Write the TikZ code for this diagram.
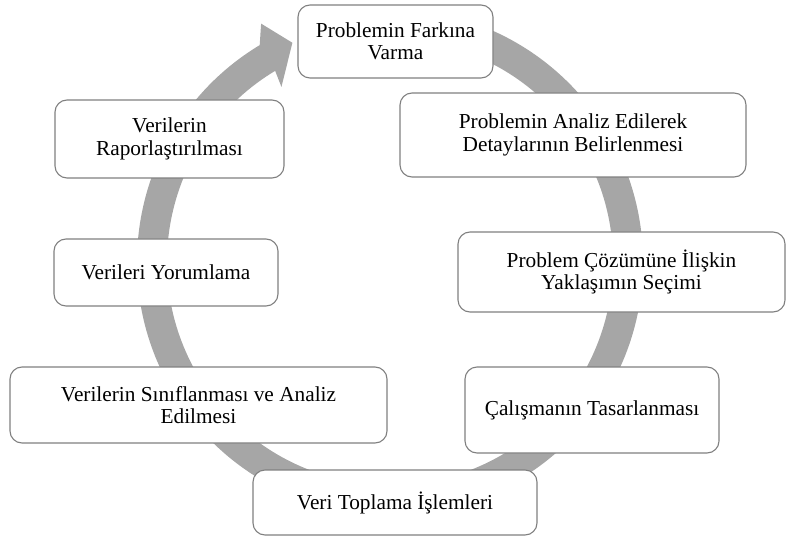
\documentclass[tikz,border=0pt]{standalone}
\usepackage{fontspec}
\setmainfont{Liberation Serif}[Ligatures=NoCommon]
\usepackage{xcolor}
\definecolor{ringgray}{RGB}{166,166,166}
\definecolor{edgegray}{RGB}{128,128,128}

\begin{document}
\begin{tikzpicture}[x=1pt,y=1pt,
  box/.style={draw=edgegray,line width=1.1pt,fill=white,rounded corners=12pt,
    align=center,inner sep=0pt,font=\fontsize{21.3}{22.5}\selectfont}]
  \useasboundingbox (0,0) rectangle (786,536);

  % the cycle arrow behind the boxes
  \begin{scope}[shift={(390,274)}]
    \fill[ringgray] (90:253) arc[start angle=90,end angle=-239,radius=253]
      -- (-241.6:271) -- (-246:240) -- (-238.2:206) -- (-239:223)
      arc[start angle=-239,end angle=90,radius=223] -- cycle;
  \end{scope}

  \node[box,minimum width=195,minimum height=73] (fark) at (395.5,494.5)
    {Problemin Farkına\\Varma};
  \node[box,minimum width=346,minimum height=84] (analiz) at (573,401)
    {Problemin Analiz Edilerek\\Detaylarının Belirlenmesi};
  \node[box,minimum width=327,minimum height=80] (yaklasim) at (621.5,264)
    {Problem Çözümüne İlişkin\\Yaklaşımın Seçimi};
  \node[box,minimum width=254,minimum height=86] (tasarim) at (592,126)
    {Çalışmanın Tasarlanması};
  \node[box,minimum width=284,minimum height=65] (toplama) at (395,33.5)
    {Veri Toplama İşlemleri};
  \node[box,minimum width=377,minimum height=76] (sinif) at (198.5,131)
    {Verilerin Sınıflanması ve Analiz\\Edilmesi};
  \node[box,minimum width=224,minimum height=67] (yorum) at (166,263.5)
    {Verileri Yorumlama};
  \node[box,minimum width=229,minimum height=78] (rapor) at (169.5,397)
    {Verilerin\\Raporlaştırılması};
\end{tikzpicture}
\end{document}
